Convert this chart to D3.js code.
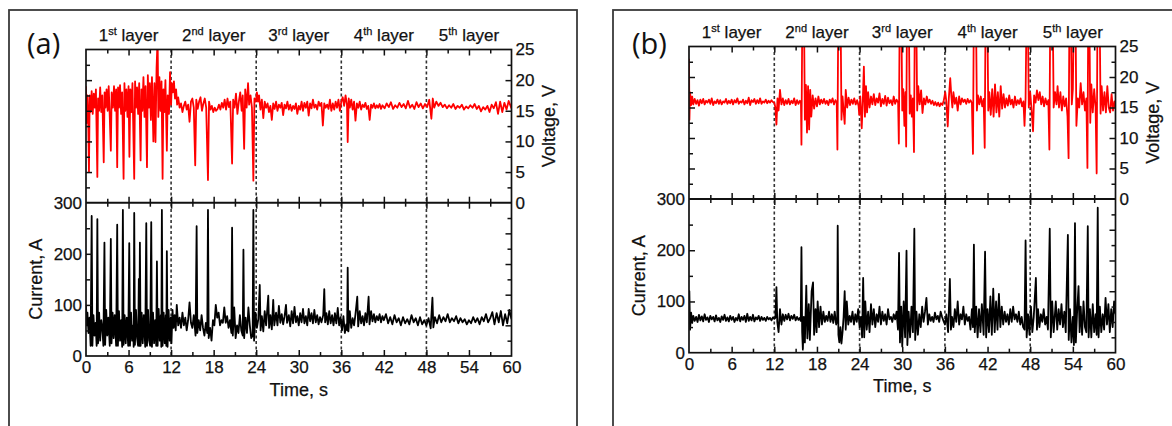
<!DOCTYPE html>
<html>
<head>
<meta charset="utf-8">
<script src="https://cdn.jsdelivr.net/npm/d3@7"></script>
<style>
  html, body { margin: 0; padding: 0; background: #fff; }
  svg { display: block; font-family: "Liberation Sans", Arial, sans-serif; }
</style>
</head>
<body>
<svg id="chart" width="1172" height="426"></svg>
<script>
// ---- Axis ticks and labels ----
const timeTicks = [0, 6, 12, 18, 24, 30, 36, 42, 48, 54, 60];
const timeMinorTicks = [3, 9, 15, 21, 27, 33, 39, 45, 51, 57];
const voltageTicks = [0, 5, 10, 15, 20, 25];
const voltageMinorTicks = [2.5, 7.5, 12.5, 17.5, 22.5];
const currentTicks = [0, 100, 200, 300];
const currentMinorTicks = [50, 150, 250];
const layerBounds = [12, 24, 36, 48];
const layerCentres = [6, 18, 30, 42, 54];
const layerNames = [["1", "st"], ["2", "nd"], ["3", "rd"], ["4", "th"], ["5", "th"]];
const panelLetters = ["(a)", "(b)"];

// ---- Panel (a): voltage [time s, V] ----
const voltageA = [
[0,19],[0.1,13],[0.2,17.5],[0.3,14.5],[0.42,5],[0.52,17.5],[0.65,14.8],[0.8,18.2],[0.95,14.5],[1.1,17.8],[1.25,15.5],[1.4,18.5],[1.6,4.2],[1.7,17],[1.85,15],[2,18.8],[2.15,14.8],[2.3,17.5],[2.5,6.6],[2.62,18],[2.75,15.5],[2.9,18.5],[3.05,15],[3.2,19],[3.35,14],[3.5,8.5],[3.62,18],[3.8,15.5],[3.95,19],[4.1,15],[4.25,18.5],[4.4,5.8],[4.52,18.8],[4.65,15.5],[4.8,19.2],[4.95,14.5],[5.1,18],[5.3,3.9],[5.42,19.5],[5.55,15],[5.7,18.5],[5.85,14],[6,19],[6.12,7.5],[6.25,18.5],[6.4,14.8],[6.55,19.5],[6.8,3.9],[6.92,19.8],[7.05,15.5],[7.2,18.8],[7.35,14.5],[7.5,19.5],[7.7,6.9],[7.82,18.5],[7.95,15],[8.1,20.5],[8.25,14],[8.4,19],[8.6,5.8],[8.72,20.8],[8.85,15.5],[9,19.5],[9.15,13.5],[9.3,20.5],[9.5,10],[9.65,19.5],[9.8,9.9],[9.95,22],[10.1,27],[10.2,14],[10.35,20.5],[10.5,15],[10.65,19.8],[10.8,3.9],[10.92,18.5],[11.05,14.8],[11.2,20],[11.4,8.5],[11.52,17.5],[11.7,14.5],[11.85,21.3],[12,16],[12.1,19.5],[12.25,18],[12.4,19.8],[12.55,17],[12.7,18.5],[12.85,16],[13,17.2],
[13.2,15.5],[13.4,16.2],[13.6,14.8],[13.8,15.8],[14,16.5],[14.2,15.2],[14.4,16],[14.6,13.2],[14.8,16.5],[15,17],[15.2,15.5],[15.4,6.1],[15.55,16.8],[15.75,15.3],[15.95,16.5],[16.15,17.2],[16.35,15],[16.55,16.2],[16.75,17],[16.95,15.5],[17.2,3.7],[17.35,16.5],[17.55,15.2],[17.75,15.8],[17.95,14.8],[18.15,15.5],[18.35,15],[18.55,15.3],[18.75,16],[18.95,15.2],[19.15,16.3],[19.35,15.5],[19.55,16.8],[19.75,15.2],[19.95,17],[20.15,15.6],[20.35,16.5],[20.6,6.4],[20.75,16.8],[20.95,15.5],[21.15,17.8],[21.35,14.5],[21.55,16.5],[21.75,18],[21.95,15],[22.1,17.5],[22.3,8.8],[22.45,18.5],[22.65,15.5],[22.85,19.5],[23,16],[23.2,17.5],[23.4,15.5],[23.6,3.6],[23.75,17],[23.95,16.5],
[24.1,18],[24.25,16.5],[24.4,17.5],[24.6,15.2],[24.8,16.8],[25,13.8],[25.2,16.5],[25.4,15.5],[25.6,16.2],[25.8,14.8],[26,15.8],[26.2,13.5],[26.4,16.2],[26.6,15.3],[26.8,16.5],[27,15],[27.2,16],[27.4,15.5],[27.6,16.3],[27.8,14.3],[28,16],[28.2,15.4],[28.4,16.5],[28.6,15.2],[28.8,16],[29,15],[29.2,15.8],[29.4,15.3],[29.6,16.2],[29.8,14.5],[30,15.8],[30.2,15.2],[30.4,16.5],[30.6,15],[30.8,16.3],[31,15.5],[31.2,16.5],[31.4,14.2],[31.6,16.2],[31.8,15.4],[32,16.8],[32.2,15.5],[32.4,16],[32.6,15.2],[32.8,16.5],[33,15.8],[33.2,16.3],[33.4,12.6],[33.6,16.2],[33.8,15.5],[34,16],[34.2,15.3],[34.4,16.8],[34.6,15],[34.8,16.2],[35,15.2],[35.2,16.5],[35.4,15.5],[35.6,16.8],[35.8,15],[36,16.5],[36.2,17.2],[36.4,15.8],[36.6,17.5],[36.8,16],[36.9,9.9],[37.05,17],[37.2,15.5],[37.4,16.8],[37.6,15.2],[37.8,16.5],[38,13.4],[38.2,16.2],[38.4,15.5],[38.6,16.5],[38.8,15.2],[39,16],[39.2,15.6],[39.4,16.3],[39.6,15.3],[39.8,15.8],[40,13.5],[40.2,16],[40.4,15.5],[40.6,16.2],[40.8,15.4],[41,15.9],[41.2,15.5],[41.4,16.1],[41.6,15.3],
[41.8,15.9],[42.1,15.4],[42.4,16.2],[42.7,15.6],[43,16.4],[43.3,15.3],[43.6,15.9],[43.9,15.5],[44.2,16.3],[44.5,15.6],[44.8,16.1],[45.1,15.4],[45.4,16.6],[45.7,15.5],[46,16],[46.3,15.3],[46.6,16.4],[46.9,15.6],[47.2,16.2],[47.5,15.4],[47.8,16.1],[48.1,15.6],[48.4,16.8],[48.7,13.7],[48.9,17],[49.1,15.5],[49.4,16.5],[49.7,15.8],[50,16.3],[50.3,15.6],[50.6,16],[50.9,15.4],[51.2,15.9],[51.5,15.5],[51.8,16.1],[52.1,15.3],[52.4,15.8],[52.7,15.5],[53,16],[53.3,15.2],[53.6,15.7],[53.9,15.4],[54.2,15.9],[54.5,15.5],[54.8,16.1],[55.1,15.3],[55.4,15.8],[55.7,14.9],[56,15.6],[56.3,15.2],[56.6,15.8],[56.9,14.8],[57.2,16],[57.5,15.4],[57.8,16.4],[58.1,14.5],[58.4,16.5],[58.7,14.8],[59,16.3],[59.3,15.2],[59.6,16.6],[60,15.4]
];

// ---- Panel (a): current [time s, A] ----
const currentA = [
[0,100],[0.1,60],[0.2,85],[0.35,45],[0.5,75],[0.65,20],[0.8,274],[0.9,20],[1.05,80],[1.2,40],[1.35,65],[1.5,20],[1.6,268],[1.7,25],[1.85,85],[2,30],[2.15,70],[2.3,55],[2.45,20],[2.6,222],[2.7,22],[2.85,90],[3,40],[3.15,75],[3.35,20],[3.5,229],[3.6,25],[3.75,85],[3.9,35],[4.05,80],[4.25,20],[4.4,257],[4.5,20],[4.65,88],[4.8,30],[4.95,70],[5.1,18],[5.2,286],[5.3,22],[5.45,80],[5.6,25],[5.75,75],[5.95,20],[6.1,221],[6.2,20],[6.35,85],[6.5,30],[6.65,60],[6.72,18],[6.8,280],[6.9,22],[7.05,90],[7.2,35],[7.35,20],[7.45,151],[7.52,20],[7.6,222],[7.7,20],[7.85,85],[8,25],[8.15,80],[8.35,18],[8.5,260],[8.6,20],[8.75,90],[8.9,30],[9.05,20],[9.2,262],[9.3,18],[9.45,85],[9.6,25],[9.75,70],[9.9,20],[10,185],[10.1,20],[10.25,92],[10.4,30],[10.55,80],[10.62,18],[10.7,286],[10.8,20],[10.95,85],[11.1,25],[11.25,80],[11.32,20],[11.4,205],[11.5,18],[11.65,90],[11.8,30],[11.95,75],[12.05,25],[12.2,90],[12.35,55],[12.5,80],[12.65,50],[12.8,100],
[13,60],[13.2,75],[13.4,55],[13.6,85],[13.8,60],[14,75],[14.2,50],[14.4,70],[14.6,105],[14.8,65],[15,55],[15.2,80],[15.45,40],[15.6,254],[15.7,45],[15.9,70],[16.1,50],[16.3,80],[16.5,55],[16.7,40],[16.9,65],[17.1,45],[17.2,286],[17.3,35],[17.5,55],[17.7,30],[17.9,70],[18.1,60],[18.3,100],[18.5,75],[18.7,85],[18.9,60],[19.1,70],[19.3,65],[19.5,95],[19.7,65],[19.9,78],[20.1,55],[20.3,70],[20.5,45],[20.6,251],[20.7,40],[20.9,95],[21.1,35],[21.3,60],[21.5,45],[21.7,80],[21.9,50],[22.1,40],[22.2,208],[22.3,35],[22.5,75],[22.7,45],[22.9,95],[23.1,60],[23.3,35],[23.5,40],[23.6,286],[23.7,30],[23.9,85],
[24.1,55],[24.3,72],[24.5,139],[24.62,50],[24.8,78],[25,48],[25.2,88],[25.4,60],[25.7,118],[25.82,55],[26,80],[26.2,52],[26.4,110],[26.55,60],[26.8,85],[27,60],[27.2,98],[27.4,65],[27.6,82],[27.8,62],[28,78],[28.2,100],[28.35,65],[28.6,80],[28.8,58],[29,88],[29.2,64],[29.4,96],[29.6,66],[29.8,78],[30,60],[30.2,84],[30.4,66],[30.6,92],[30.8,64],[31,78],[31.2,60],[31.4,92],[31.6,68],[31.8,84],[32,64],[32.2,90],[32.4,66],[32.6,80],[32.8,62],[33,76],[33.2,66],[33.45,80],[33.6,131],[33.72,66],[33.9,84],[34.1,62],[34.3,88],[34.5,64],[34.7,80],[34.9,60],[35.1,84],[35.3,64],[35.5,94],[35.7,60],[35.9,76],[36.1,50],[36.3,78],[36.5,45],[36.7,62],[36.82,50],[36.9,173],[37,48],[37.2,88],[37.4,55],[37.6,74],[37.8,60],[38,82],[38.25,116],[38.38,58],[38.6,88],[38.8,64],[39,78],[39.2,60],[39.4,84],[39.6,66],[39.85,116],[39.98,62],[40.2,88],[40.4,68],[40.6,82],[40.8,66],[41,78],[41.2,70],[41.4,82],[41.6,66],[41.8,78],
[42,70],[42.3,82],[42.6,64],[42.9,76],[43.2,62],[43.5,80],[43.8,66],[44.1,74],[44.4,60],[44.7,76],[45,64],[45.3,72],[45.6,62],[45.9,80],[46.2,66],[46.5,74],[46.8,60],[47.1,76],[47.4,62],[47.7,70],[48,60],[48.3,74],[48.6,54],[48.85,114],[48.98,56],[49.2,76],[49.5,64],[49.8,80],[50.1,66],[50.4,76],[50.7,68],[51,82],[51.3,66],[51.6,74],[51.9,68],[52.2,78],[52.5,64],[52.8,74],[53.1,66],[53.4,72],[53.7,62],[54,70],[54.3,64],[54.6,76],[54.9,66],[55.2,74],[55.5,62],[55.8,76],[56.1,68],[56.4,82],[56.7,66],[57,74],[57.3,86],[57.6,62],[57.9,84],[58.2,66],[58.5,88],[58.8,60],[59.1,82],[59.4,64],[59.7,90],[60,72]
];

// ---- Panel (b): voltage [time s, V] ----
const voltageB = [
[0,23],[0.06,13],[0.15,17.5],[0.3,15.4],[0.45,16.8],[0.6,15.5],[0.8,16.4],[1,15.6],[1.2,16.2],[1.4,15.3],[1.6,16.3],[1.8,15.7],[2,16.4],[2.2,15.5],[2.4,16.1],[2.6,15.8],[2.8,16.3],[3,15.6],[3.2,16.5],[3.4,15.4],[3.6,16],[3.8,15.7],[4,16.3],[4.2,15.6],[4.4,16.2],[4.6,15.5],[4.8,16],[5,15.8],[5.2,16.4],[5.4,15.6],[5.6,16.1],[5.8,15.7],[6,16.3],[6.2,15.5],[6.4,16.2],[6.6,15.8],[6.8,16.5],[7,15.6],[7.2,16],[7.4,15.8],[7.6,16.3],[7.8,15.5],[8,16.1],[8.2,15.7],[8.4,16.6],[8.6,15.4],[8.8,16.2],[9,15.9],[9.2,16.4],[9.4,15.6],[9.6,16.2],[9.8,15.7],[10,16.5],[10.2,15.6],[10.4,16],[10.6,15.8],[10.8,16.3],[11,15.7],[11.2,16.1],[11.4,15.8],[11.6,16.2],[11.8,15.9],[12,15.8],[12.15,15],[12.3,12.2],[12.45,16.5],[12.6,14.5],[12.8,17.9],[13,15.5],[13.2,16.5],[13.4,15.4],[13.6,16.2],[13.8,15.6],[14,16.4],[14.2,15.5],[14.4,16.1],[14.6,15.7],[14.8,16.5],[15,15.4],[15.2,16.2],[15.4,15.6],[15.6,16.1],[15.75,15.8],[15.82,8.9],[15.92,27],[16.2,27],[16.3,13],[16.45,18.7],[16.6,10.9],[16.75,18.5],[16.9,11.4],[17.05,17.9],[17.2,13.5],[17.4,17],[17.6,14.8],[17.8,16.5],[18,15.2],[18.2,16.8],[18.4,15.5],[18.6,16.3],[18.8,15.7],[19,16.4],[19.2,15.6],[19.4,16.1],[19.6,15.4],[19.8,16.3],[20,15.8],[20.2,16.5],[20.4,15.5],[20.6,16.2],[20.78,15.8],[20.88,8.1],[20.98,27],[21.35,27],[21.45,13],[21.6,16.8],[21.75,14.5],[21.9,12.3],[22.05,17.9],[22.25,15],[22.45,16.6],[22.65,15.4],[22.85,16.3],[23.05,15.6],[23.25,16.5],[23.45,15.5],[23.65,16.2],[23.85,15.3],[23.95,13.8],[24.1,16.8],[24.3,11.6],[24.45,16],[24.6,21.7],[24.75,13.5],[24.9,18.5],[25.05,14.2],[25.2,17.5],[25.4,15],[25.6,16.8],[25.8,15.5],[26,17.2],[26.2,15.4],[26.4,16.5],[26.6,15.8],[26.8,17.3],[27,15.2],[27.2,16.4],[27.4,15.6],[27.6,16.9],[27.8,15.3],[28,16.6],[28.2,15.7],[28.4,16.2],[28.6,15.4],[28.8,16.8],[29,15.6],[29.2,16.3],[29.42,15.8],[29.52,9.1],[29.62,27],[29.9,27],[30,14.5],[30.15,18],[30.3,12],[30.45,17.5],[30.55,8.6],[30.65,27],[30.95,27],[31.05,14],[31.2,17],[31.35,13.5],[31.5,16.5],[31.65,7.7],[31.75,27],[32,27],[32.1,14.5],[32.25,18.5],[32.45,15.5],[32.65,17.8],[32.85,14.1],[33.05,16.5],[33.25,15.5],[33.45,16.8],[33.65,15.8],[33.85,16.3],[34.05,15.6],[34.25,16.1],[34.45,15.4],[34.65,15.9],[34.85,15.3],[35.05,15.8],[35.25,15.2],[35.45,15.7],[35.65,15.4],[35.85,16.2],[36.05,17.5],[36.2,16],[36.4,11.9],[36.55,16.5],[36.75,19.8],[36.9,17],[37.05,15],[37.2,17.5],[37.4,15.6],[37.6,16.6],[37.8,14.5],[38,16.8],[38.2,15.5],[38.4,16.5],[38.6,15.9],[38.8,16.3],[39,15.6],[39.2,16.4],[39.4,15.8],[39.6,16.2],[39.8,15.7],[39.95,7.4],[40.05,27],[40.4,27],[40.5,14.5],[40.65,17],[40.85,15.5],[41.05,16.8],[41.25,15.2],[41.45,16.4],[41.6,8.4],[41.7,27],[42,27],[42.1,14.5],[42.25,17.5],[42.45,13.8],[42.65,18],[42.85,13.5],[43.05,18.8],[43.25,14.2],[43.45,17.5],[43.65,13.5],[43.85,18.5],[44.05,14.8],[44.25,17.2],[44.45,15],[44.65,16.5],[44.85,15.3],[45.05,17],[45.25,15.5],[45.45,16.3],[45.65,15],[45.85,16.8],[46.05,15.4],[46.25,16.2],[46.45,15.6],[46.65,16.5],[46.85,15.2],[47.05,16],[47.2,12],[47.35,16.5],[47.45,27],[47.7,27],[47.8,15],[48,17.5],[48.2,14.5],[48.4,11.1],[48.55,17],[48.75,15.8],[48.95,17.8],[49.15,16.2],[49.35,17.5],[49.55,15.5],[49.75,16.8],[49.95,15.2],[50.15,16.5],[50.35,15.5],[50.55,16.2],[50.7,8.1],[50.8,27],[51.2,27],[51.3,15],[51.5,17.5],[51.7,15.5],[51.85,18.5],[52.05,15],[52.25,17.5],[52.45,14.5],[52.65,16.8],[52.85,15.2],[53.05,16.5],[53.25,13.5],[53.4,6.7],[53.5,27],[53.75,27],[53.85,15.5],[54,18],[54.1,27],[54.4,27],[54.5,12],[54.7,16.5],[54.9,15],[55.1,19],[55.3,15.5],[55.5,17.5],[55.7,14.5],[55.9,16.5],[56.05,5.1],[56.15,27],[56.35,27],[56.45,12.5],[56.6,18.8],[56.8,14.2],[57,18],[57.2,15],[57.35,4.2],[57.45,27],[57.8,27],[57.9,14],[58.05,18.5],[58.25,14.5],[58.45,17.5],[58.65,14.2],[58.85,18.5],[59.05,15],[59.25,14.2],[59.45,17.2],[59.65,14.5],[59.85,16],[60,15]
];

// ---- Panel (b): current [time s, A] ----
const currentB = [
[0,55],[0.05,120],[0.15,45],[0.3,78],[0.45,58],[0.6,72],[0.8,62],[1,70],[1.2,60],[1.4,74],[1.6,63],[1.8,71],[2,61],[2.2,75],[2.4,64],[2.6,69],[2.8,60],[3,72],[3.2,65],[3.4,70],[3.6,61],[3.8,73],[4,63],[4.2,68],[4.4,60],[4.6,71],[4.8,64],[5,74],[5.2,62],[5.4,69],[5.6,61],[5.8,72],[6,64],[6.2,70],[6.4,60],[6.6,68],[6.8,63],[7,75],[7.2,61],[7.4,70],[7.6,64],[7.8,72],[8,60],[8.2,76],[8.4,62],[8.6,70],[8.8,63],[9,74],[9.2,61],[9.4,69],[9.6,65],[9.8,72],[10,62],[10.2,70],[10.4,64],[10.6,68],[10.8,62],[11,70],[11.2,65],[11.4,68],[11.6,63],[11.8,69],[12,66],[12.15,68],[12.3,128],[12.42,60],[12.6,40],[12.8,85],[13,55],[13.2,75],[13.4,62],[13.6,74],[13.8,65],[14,76],[14.2,63],[14.4,72],[14.6,66],[14.8,74],[15,63],[15.2,70],[15.4,64],[15.6,68],[15.72,62],[15.82,206],[15.92,40],[16.02,6],[16.15,70],[16.3,20],[16.5,131],[16.65,28],[16.85,95],[17,25],[17.25,120],[17.45,137],[17.6,35],[17.8,85],[17.95,40],[18.1,100],[18.3,50],[18.5,90],[18.7,55],[18.9,80],[19.1,60],[19.3,72],[19.5,62],[19.7,80],[19.9,60],[20.1,75],[20.3,58],[20.5,80],[20.7,55],[20.85,62],[20.92,248],[21.02,35],[21.15,20],[21.3,50],[21.45,18],[21.6,40],[21.75,70],[21.9,120],[22.05,45],[22.2,100],[22.4,55],[22.6,72],[22.8,60],[23,80],[23.2,55],[23.4,75],[23.6,60],[23.8,85],[24,50],[24.2,70],[24.35,30],[24.5,146],[24.65,30],[24.8,100],[25,45],[25.2,80],[25.4,40],[25.6,95],[25.8,55],[26,85],[26.2,50],[26.4,75],[26.6,60],[26.8,90],[27,55],[27.2,80],[27.4,62],[27.6,75],[27.8,55],[28,85],[28.2,65],[28.4,70],[28.6,60],[28.8,75],[29,65],[29.2,80],[29.4,45],[29.55,195],[29.68,20],[29.85,90],[30,12],[30.2,100],[30.4,30],[30.6,199],[30.72,15],[30.9,80],[31.1,30],[31.3,90],[31.5,40],[31.7,242],[31.82,25],[32,80],[32.2,35],[32.4,75],[32.6,50],[32.8,90],[33,60],[33.2,80],[33.4,107],[33.6,55],[33.8,75],[34,62],[34.2,70],[34.4,60],[34.6,78],[34.8,65],[35,72],[35.2,60],[35.4,80],[35.6,70],[35.8,62],[36,55],[36.2,75],[36.45,40],[36.7,144],[36.85,45],[37,70],[37.2,50],[37.4,85],[37.6,60],[37.8,100],[38,55],[38.2,75],[38.4,65],[38.6,90],[38.8,55],[39,75],[39.2,62],[39.4,70],[39.6,45],[39.8,85],[39.95,50],[40.08,211],[40.2,40],[40.4,90],[40.6,30],[40.8,85],[41,40],[41.2,95],[41.45,35],[41.65,197],[41.8,30],[42,85],[42.2,40],[42.4,110],[42.6,35],[42.8,125],[43,40],[43.2,100],[43.4,45],[43.6,115],[43.8,50],[44,90],[44.2,55],[44.4,80],[44.6,60],[44.8,75],[45,55],[45.2,85],[45.4,60],[45.6,90],[45.8,65],[46,75],[46.2,60],[46.4,80],[46.6,55],[46.8,70],[47,50],[47.2,45],[47.35,219],[47.5,30],[47.7,75],[47.9,35],[48.1,90],[48.3,40],[48.5,70],[48.8,146],[48.95,45],[49.1,85],[49.3,50],[49.5,75],[49.7,60],[49.9,85],[50.1,55],[50.3,70],[50.5,45],[50.75,242],[50.9,30],[51.1,100],[51.3,40],[51.6,100],[51.8,45],[52,85],[52.2,55],[52.4,95],[52.6,50],[52.8,80],[53,40],[53.3,230],[53.42,25],[53.6,85],[53.8,20],[54,70],[54.15,15],[54.3,253],[54.42,20],[54.6,80],[54.8,130],[54.95,40],[55.1,90],[55.3,35],[55.5,100],[55.7,50],[55.9,40],[56.1,247],[56.22,30],[56.4,85],[56.6,30],[56.8,95],[57,40],[57.2,75],[57.35,35],[57.5,283],[57.62,30],[57.8,90],[58,40],[58.2,75],[58.4,45],[58.6,107],[58.8,55],[59,95],[59.2,40],[59.4,85],[59.6,50],[59.8,100],[60,75]
];

// ---- Layout of the two panels ----
const panels = [
  { id: "a", box: { x: 9, y: 10, w: 568 }, x0: 86, x1: 511.5, top: 49.5, mid: 202.7, bottom: 356,
    voltage: voltageA, current: currentA, letter: panelLetters[0], letterX: 27 },
  { id: "b", box: { x: 613, y: 10, w: 575 }, x0: 689, x1: 1115.5, top: 46.5, mid: 199, bottom: 352.7,
    voltage: voltageB, current: currentB, letter: panelLetters[1], letterX: 632 }
];

const svg = d3.select("#chart");
const defs = svg.append("defs");
const TEXT = "#111";
const FONT = '"Liberation Sans", Arial, sans-serif';

function styleAxis(sel, labelled) {
  sel.select(".domain").remove();
  sel.attr("font-family", FONT).attr("font-size", 17);
  sel.selectAll(".tick line").attr("stroke", "#111").attr("stroke-width", 1.5);
  sel.selectAll(".tick text").attr("fill", TEXT).attr("stroke", TEXT).attr("stroke-width", 0.25);
  if (!labelled) sel.selectAll(".tick text").remove();
}

function addAxis(g, axis, transform, labelled) {
  const s = g.append("g").attr("transform", transform).call(axis);
  styleAxis(s, labelled);
  return s;
}

function caption(g, attrs, size) {
  const t = g.append("text")
    .attr("font-family", FONT).attr("font-size", size)
    .attr("fill", TEXT).attr("stroke", TEXT).attr("stroke-width", 0.25);
  Object.entries(attrs).forEach(([k, v]) => t.attr(k, v));
  return t;
}

panels.forEach(p => {
  const g = svg.append("g");

  // outer panel frame (open at the bottom edge of the page)
  g.append("rect")
    .attr("x", p.box.x).attr("y", p.box.y)
    .attr("width", p.box.w).attr("height", 440)
    .attr("fill", "none").attr("stroke", "#3a3a3a").attr("stroke-width", 1.8);

  const x = d3.scaleLinear().domain([0, 60]).range([p.x0, p.x1]);
  const yV = d3.scaleLinear().domain([0, 25]).range([p.mid, p.top]);
  const yI = d3.scaleLinear().domain([0, 300]).range([p.bottom, p.mid]);
  const yR = d3.scaleLinear().domain([0, 25]).range([p.bottom, p.mid]); // right-hand ticks of the current plot

  // clip regions
  defs.append("clipPath").attr("id", `clipV-${p.id}`).append("rect")
    .attr("x", p.x0).attr("y", p.top).attr("width", p.x1 - p.x0).attr("height", p.mid - p.top);
  defs.append("clipPath").attr("id", `clipI-${p.id}`).append("rect")
    .attr("x", p.x0).attr("y", p.mid).attr("width", p.x1 - p.x0).attr("height", p.bottom - p.mid);

  // layer boundaries
  g.selectAll(".bound").data(layerBounds).join("line")
    .attr("x1", d => x(d)).attr("x2", d => x(d))
    .attr("y1", p.top).attr("y2", p.bottom)
    .attr("stroke", "#333").attr("stroke-width", 1.6)
    .attr("stroke-dasharray", "3,2.5");

  // signals
  const lineV = d3.line().x(d => x(d[0])).y(d => yV(d[1]));
  const lineI = d3.line().x(d => x(d[0])).y(d => yI(d[1]));
  g.append("path").datum(p.voltage)
    .attr("clip-path", `url(#clipV-${p.id})`)
    .attr("d", lineV).attr("fill", "none")
    .attr("stroke", "#ff0000").attr("stroke-width", 1.8).attr("stroke-linejoin", "round");
  g.append("path").datum(p.current)
    .attr("clip-path", `url(#clipI-${p.id})`)
    .attr("d", lineI).attr("fill", "none")
    .attr("stroke", "#000").attr("stroke-width", 1.8).attr("stroke-linejoin", "round");

  // plot frames
  g.append("rect")
    .attr("x", p.x0).attr("y", p.top).attr("width", p.x1 - p.x0).attr("height", p.bottom - p.top)
    .attr("fill", "none").attr("stroke", "#111").attr("stroke-width", 1.7);
  g.append("line")
    .attr("x1", p.x0).attr("x2", p.x1).attr("y1", p.mid).attr("y2", p.mid)
    .attr("stroke", "#111").attr("stroke-width", 2);

  // time ticks: top edge, middle line (both sides), bottom edge
  const inner = timeTicks.slice(1, -1);
  addAxis(g, d3.axisTop(x).tickValues(inner).tickSizeInner(-6).tickSizeOuter(0), `translate(0,${p.top})`, false);
  addAxis(g, d3.axisTop(x).tickValues(timeMinorTicks).tickSizeInner(-4).tickSizeOuter(0), `translate(0,${p.top})`, false);
  addAxis(g, d3.axisTop(x).tickValues(inner).tickSizeInner(6).tickSizeOuter(0), `translate(0,${p.mid})`, false);
  addAxis(g, d3.axisBottom(x).tickValues(inner).tickSizeInner(6).tickSizeOuter(0), `translate(0,${p.mid})`, false);
  addAxis(g, d3.axisTop(x).tickValues(timeMinorTicks).tickSizeInner(4).tickSizeOuter(0), `translate(0,${p.mid})`, false);
  addAxis(g, d3.axisBottom(x).tickValues(timeMinorTicks).tickSizeInner(4).tickSizeOuter(0), `translate(0,${p.mid})`, false);
  addAxis(g, d3.axisBottom(x).tickValues(timeTicks).tickSizeInner(-6).tickSizeOuter(0).tickPadding(5).tickFormat(d3.format("d")), `translate(0,${p.bottom})`, true)
    .selectAll(".tick line").filter(d => d === 0 || d === 60).remove();
  addAxis(g, d3.axisBottom(x).tickValues(timeMinorTicks).tickSizeInner(-4).tickSizeOuter(0), `translate(0,${p.bottom})`, false);

  // voltage axis on the right, unlabelled ticks on the left
  addAxis(g, d3.axisRight(yV).tickValues(voltageTicks).tickSizeInner(-6).tickSizeOuter(0).tickPadding(4).tickFormat(d3.format("d")), `translate(${p.x1},0)`, true)
    .selectAll(".tick line").filter(d => d === 0 || d === 25).remove();
  addAxis(g, d3.axisRight(yV).tickValues(voltageMinorTicks).tickSizeInner(-4).tickSizeOuter(0), `translate(${p.x1},0)`, false);
  addAxis(g, d3.axisLeft(yV).tickValues(voltageTicks.slice(1, -1)).tickSizeInner(-6).tickSizeOuter(0), `translate(${p.x0},0)`, false);
  addAxis(g, d3.axisLeft(yV).tickValues(voltageMinorTicks).tickSizeInner(-4).tickSizeOuter(0), `translate(${p.x0},0)`, false);

  // current axis on the left, unlabelled ticks on the right
  addAxis(g, d3.axisLeft(yI).tickValues(currentTicks).tickSizeInner(-6).tickSizeOuter(0).tickPadding(4).tickFormat(d3.format("d")), `translate(${p.x0},0)`, true)
    .selectAll(".tick line").filter(d => d === 0 || d === 300).remove();
  addAxis(g, d3.axisLeft(yI).tickValues(currentMinorTicks).tickSizeInner(-4).tickSizeOuter(0), `translate(${p.x0},0)`, false);
  addAxis(g, d3.axisRight(yR).tickValues(voltageTicks.slice(1, -1)).tickSizeInner(-6).tickSizeOuter(0), `translate(${p.x1},0)`, false);
  addAxis(g, d3.axisRight(yR).tickValues(voltageMinorTicks).tickSizeInner(-4).tickSizeOuter(0), `translate(${p.x1},0)`, false);

  // axis titles
  caption(g, { x: (p.x0 + p.x1) / 2, y: p.bottom + 39.5, "text-anchor": "middle" }, 18).text("Time, s");
  caption(g, { transform: `translate(${p.x1 + 43},${(p.top + p.mid) / 2}) rotate(-90)`, "text-anchor": "middle" }, 18).text("Voltage, V");
  caption(g, { transform: `translate(${p.x0 - 44},${(p.mid + p.bottom) / 2}) rotate(-90)`, "text-anchor": "middle" }, 18).text("Current, A");

  // layer captions above each layer interval
  layerCentres.forEach((c, i) => {
    const t = caption(g, { x: x(c), y: p.top - 9, "text-anchor": "middle" }, 17);
    t.append("tspan").text(layerNames[i][0]);
    t.append("tspan").attr("font-size", 11).attr("dy", -6).text(layerNames[i][1]);
    t.append("tspan").attr("dy", 6).text(" layer");
  });

  // panel letter
  g.append("text")
    .attr("x", p.letterX).attr("y", 54)
    .attr("font-family", '"Open Sans", "Noto Sans", sans-serif').attr("font-size", 29).attr("fill", TEXT)
    .text(p.letter);
});
</script>
</body>
</html>
